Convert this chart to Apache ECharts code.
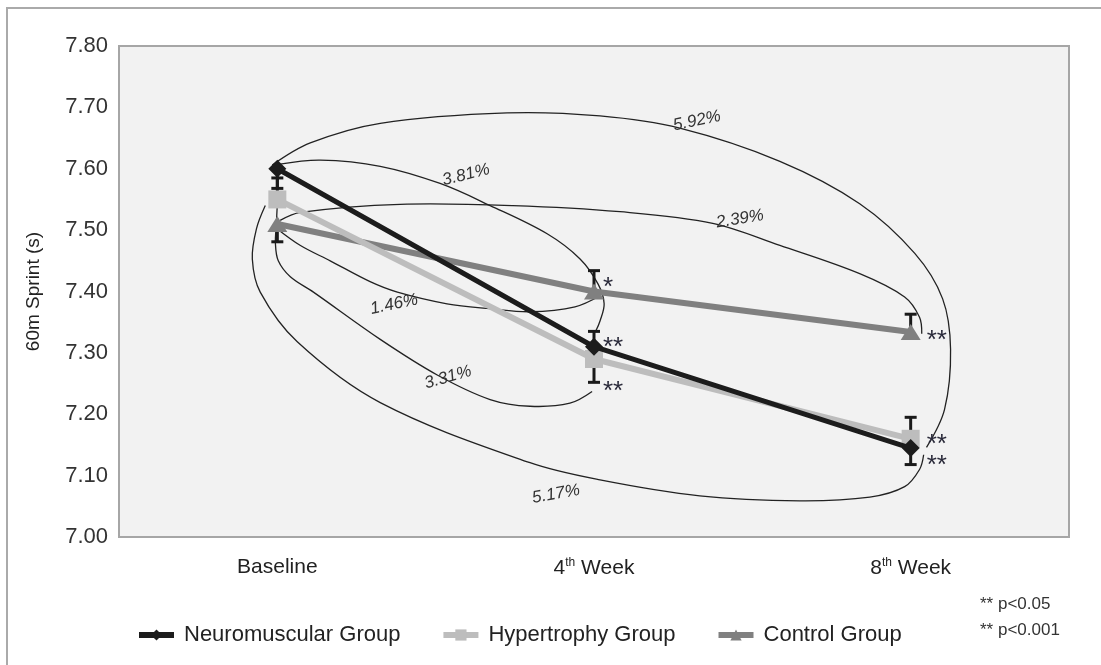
<!DOCTYPE html>
<html>
<head>
<meta charset="utf-8">
<script src="https://cdn.jsdelivr.net/npm/echarts@6/dist/echarts.min.js"></script>
<style>
  html, body { margin: 0; padding: 0; background: #fff; }
  #main { width: 1101px; height: 665px; }
</style>
</head>
<body>
<div id="main"></div>
<script>
// categories + series
var categories = ['Baseline', '4th Week', '8th Week'];
var neuromuscular = [7.60, 7.31, 7.145];
var hypertrophy = [7.55, 7.29, 7.16];
var control = [7.51, 7.40, 7.334];

// error bars: [category index, mean, end of bar]
var neuroErr = [[0, 7.60, 7.568], [1, 7.31, 7.335], [2, 7.145, 7.118]];
var hyperErr = [[0, 7.55, 7.585], [1, 7.29, 7.252], [2, 7.16, 7.195]];
var controlErr = [[0, 7.51, 7.481], [1, 7.40, 7.434], [2, 7.334, 7.363]];

// significance marks: [category index, value, text]
var sigMarks = [
  [1, 7.415, '*'], [1, 7.318, '**'], [1, 7.247, '**'],
  [2, 7.330, '**'], [2, 7.160, '**'], [2, 7.126, '**']
];

// percentage loops, points in (category, value) units
var loop592 = [[-0.016, 7.606], [0.104, 7.642], [0.325, 7.674], [0.726, 7.691], [1.019, 7.686], [1.271, 7.666],
  [1.587, 7.612], [1.839, 7.543], [2.013, 7.462], [2.101, 7.388], [2.126, 7.306], [2.107, 7.208], [2.050, 7.146]];
var loop381 = [[0.003, 7.607], [0.136, 7.614], [0.325, 7.604], [0.514, 7.576], [0.672, 7.540], [0.852, 7.494],
  [0.956, 7.453], [1.013, 7.412], [1.032, 7.380], [1.019, 7.352], [1.006, 7.336]];
var loop239 = [[0.009, 7.516], [0.073, 7.529], [0.388, 7.542], [0.744, 7.540], [1.082, 7.530], [1.375, 7.511],
  [1.587, 7.475], [1.839, 7.429], [1.981, 7.391], [2.028, 7.358], [2.035, 7.331]];
var loop146 = [[0, 7.502], [0.073, 7.475], [0.167, 7.450], [0.293, 7.416], [0.379, 7.399], [0.536, 7.380],
  [0.672, 7.372], [0.798, 7.367], [0.940, 7.375], [1.019, 7.393]];
var loop331 = [[0, 7.543], [-0.003, 7.511], [-0.006, 7.478], [0.003, 7.450], [0.041, 7.424], [0.114, 7.399],
  [0.325, 7.322], [0.505, 7.264], [0.672, 7.224], [0.798, 7.213], [0.924, 7.218], [0.994, 7.237]];
var loop517 = [[-0.038, 7.540], [-0.066, 7.502], [-0.079, 7.453], [-0.054, 7.399], [0.063, 7.318], [0.325, 7.219],
  [0.798, 7.121], [1.019, 7.093], [1.334, 7.067], [1.650, 7.059], [1.871, 7.065], [1.981, 7.082], [2.028, 7.110], [2.041, 7.134]];

var loops = [loop592, loop381, loop239, loop146, loop331, loop517];
var loopLabels = ['5.92%', '3.81%', '2.39%', '1.46%', '3.31%', '5.17%'];
var loopLabelPos = [[1.325, 7.678], [0.596, 7.590], [1.461, 7.518], [0.369, 7.379], [0.539, 7.260], [0.880, 7.070]];
var loopLabelAngle = [-12, -14, -9, -12, -16, -10];

var FONT = "'Liberation Sans', Arial, sans-serif";
var starDx = [0, 9, 16];

var myChart = echarts.init(document.getElementById('main'));

// category index may be fractional for the loops
function toPx(api, x, v) {
  var a = api.coord([0, v]);
  var b = api.coord([1, v]);
  return [a[0] + (b[0] - a[0]) * x, a[1]];
}

function errSeries(data) {
  return {
    type: 'custom',
    data: data,
    encode: { x: 0, y: [1, 2] },
    z: 1,
    silent: true,
    renderItem: function (params, api) {
      var c = api.value(0);
      var p1 = api.coord([c, api.value(1)]);
      var p2 = api.coord([c, api.value(2)]);
      var w = 6;
      return {
        type: 'group',
        children: [
          { type: 'line', shape: { x1: p1[0], y1: p1[1], x2: p2[0], y2: p2[1] }, style: { stroke: '#1a1a1a', lineWidth: 3 } },
          { type: 'line', shape: { x1: p2[0] - w, y1: p2[1], x2: p2[0] + w, y2: p2[1] }, style: { stroke: '#1a1a1a', lineWidth: 3 } }
        ]
      };
    }
  };
}

var option = {
  animation: false,
  textStyle: { fontFamily: FONT },
  grid: {
    left: 119, right: 32, top: 46, bottom: 128,
    show: true, backgroundColor: '#f2f2f2', borderColor: '#a6a6a6', borderWidth: 2
  },
  legend: {
    left: 131, top: 619,
    itemWidth: 35, itemHeight: 14, itemGap: 40,
    lineStyle: { width: 6 },
    textStyle: { fontSize: 22, color: '#222', padding: [0, 0, 0, 5] },
    data: ['Neuromuscular Group', 'Hypertrophy Group', 'Control Group']
  },
  xAxis: {
    type: 'category',
    data: categories,
    axisLine: { show: false },
    axisTick: { show: false },
    axisLabel: {
      margin: 20,
      fontSize: 21,
      color: '#222',
      formatter: function (v) {
        var m = v.match(/^(\d+)(th) (.*)$/);
        if (!m) return '{n|' + v + '}';
        return '{n|' + m[1] + '}{s|' + m[2] + '}{n| ' + m[3] + '}';
      },
      rich: {
        n: { fontSize: 21, color: '#222', fontFamily: FONT },
        s: { fontSize: 12, color: '#222', fontFamily: FONT, padding: [0, 0, 10, 0] }
      }
    }
  },
  yAxis: {
    type: 'value',
    min: 7.0, max: 7.8, interval: 0.1,
    name: '60m Sprint (s)',
    nameLocation: 'middle',
    nameGap: 76,
    nameTextStyle: { fontSize: 19, color: '#222' },
    axisLine: { show: false },
    axisTick: { show: false },
    splitLine: { show: false },
    axisLabel: {
      margin: 11, fontSize: 22, color: '#333',
      formatter: function (v) { return v.toFixed(2); }
    }
  },
  graphic: [
    { type: 'rect', shape: { x: 7, y: 8, width: 1300, height: 900 }, style: { fill: 'none', stroke: '#aaaaaa', lineWidth: 2 }, silent: true },
    { type: 'text', left: 980, top: 596, style: { text: '** p<0.05', font: '17px ' + FONT, fill: '#333' } },
    { type: 'text', left: 980, top: 622, style: { text: '** p<0.001', font: '17px ' + FONT, fill: '#333' } }
  ],
  series: [
    {
      type: 'custom',
      name: 'loops',
      data: loops.map(function (l, i) { return [0, 7.5]; }),
      encode: { x: 0, y: 1 },
      z: 0,
      silent: true,
      renderItem: function (params, api) {
        var i = params.dataIndex;
        var pts = loops[i].map(function (p) { return toPx(api, p[0], p[1]); });
        var lp = toPx(api, loopLabelPos[i][0], loopLabelPos[i][1]);
        return {
          type: 'group',
          children: [
            { type: 'polyline', shape: { points: pts, smooth: 0.35 }, style: { stroke: '#222', lineWidth: 1.3, fill: 'none' } },
            {
              type: 'text', x: lp[0], y: lp[1], rotation: -loopLabelAngle[i] * Math.PI / 180,
              style: { text: loopLabels[i], font: 'italic 17px ' + FONT, fill: '#333', align: 'center', verticalAlign: 'middle' }
            }
          ]
        };
      }
    },
    errSeries(neuroErr),
    errSeries(hyperErr),
    errSeries(controlErr),
    {
      name: 'Control Group',
      type: 'line',
      data: control,
      z: 3,
      color: '#808080',
      lineStyle: { width: 6, color: '#808080' },
      symbol: 'triangle', symbolSize: [20, 16],
      itemStyle: { color: '#808080' }
    },
    {
      name: 'Hypertrophy Group',
      type: 'line',
      data: hypertrophy,
      z: 4,
      color: '#bdbdbd',
      lineStyle: { width: 6, color: '#bdbdbd' },
      symbol: 'rect', symbolSize: 18,
      itemStyle: { color: '#bdbdbd' }
    },
    {
      name: 'Neuromuscular Group',
      type: 'line',
      data: neuromuscular,
      z: 5,
      color: '#1c1c1c',
      lineStyle: { width: 5, color: '#1c1c1c' },
      symbol: 'diamond', symbolSize: 18,
      itemStyle: { color: '#1c1c1c' }
    },
    {
      type: 'custom',
      name: 'sig',
      data: sigMarks.map(function (s) { return [s[0], s[1]]; }),
      encode: { x: 0, y: 1 },
      z: 6,
      silent: true,
      renderItem: function (params, api) {
        var s = sigMarks[params.dataIndex];
        var p = api.coord([s[0], s[1]]);
        return {
          type: 'text', x: p[0] + starDx[s[0]], y: p[1] + 6,
          style: { text: s[2], font: '26px ' + FONT, fill: '#2a2a3a', align: 'left', verticalAlign: 'middle' }
        };
      }
    }
  ]
};

myChart.setOption(option);
</script>
</body>
</html>
